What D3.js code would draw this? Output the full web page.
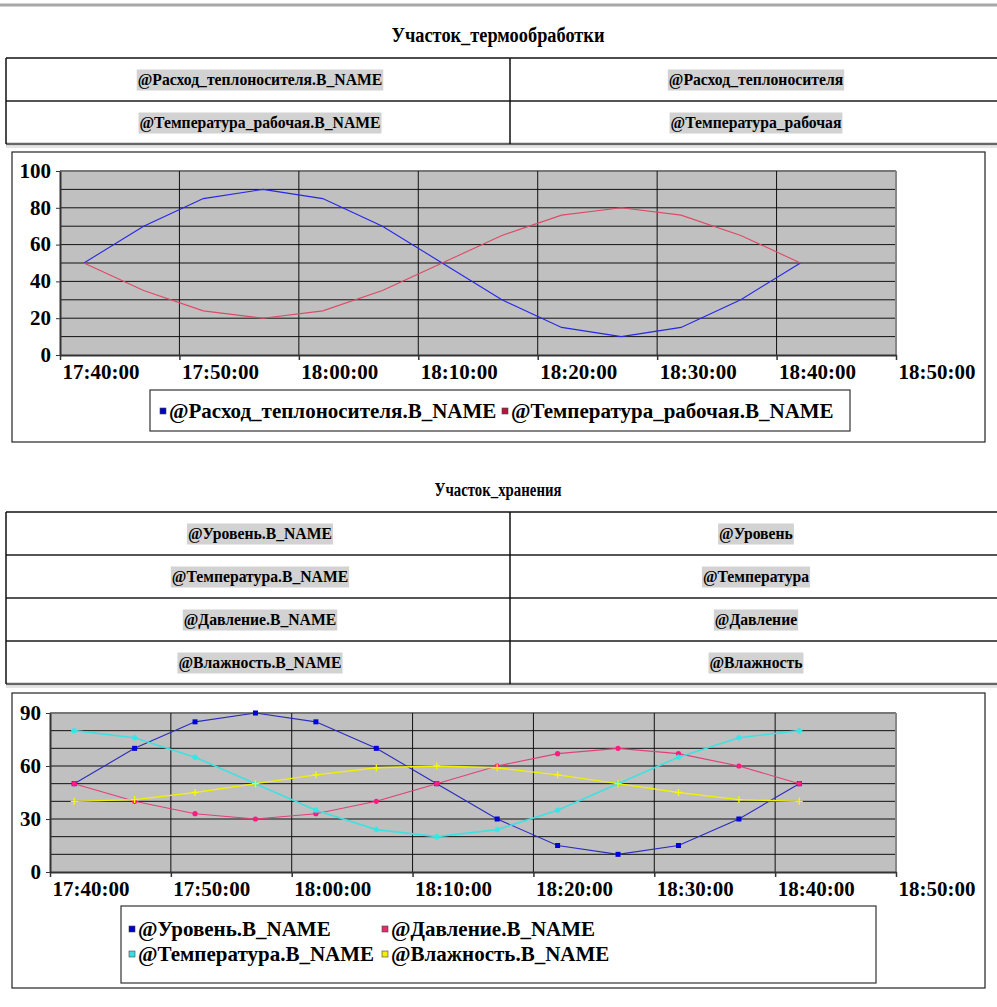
<!DOCTYPE html>
<html><head><meta charset="utf-8">
<script src="https://cdn.jsdelivr.net/npm/d3@7"></script>
<style>
body{margin:0;background:#fff;}
svg text{font-family:"Liberation Serif","Times New Roman","DejaVu Serif",serif;}
</style></head><body>
<svg id="c" width="997" height="1007"></svg>
<script>
// ---------- data ----------
const title1 = "Участок_термообработки";
const table1Left = ["@Расход_теплоносителя.B_NAME", "@Температура_рабочая.B_NAME"];
const table1Right = ["@Расход_теплоносителя", "@Температура_рабочая"];
const title2 = "Участок_хранения";
const table2Left = ["@Уровень.B_NAME", "@Температура.B_NAME", "@Давление.B_NAME", "@Влажность.B_NAME"];
const table2Right = ["@Уровень", "@Температура", "@Давление", "@Влажность"];

const times = ["17:42:00","17:47:00","17:52:00","17:57:00","18:02:00","18:07:00","18:12:00",
               "18:17:00","18:22:00","18:27:00","18:32:00","18:37:00","18:42:00"];
const xTickLabels = ["17:40:00","17:50:00","18:00:00","18:10:00","18:20:00","18:30:00","18:40:00","18:50:00"];

const chart1Names = ["@Расход_теплоносителя.B_NAME", "@Температура_рабочая.B_NAME"];
const flow     = [50,70,85,90,85,70,50,30,15,10,15,30,50];
const tempWork = [50,35,24,20,24,35,50,65,76,80,76,65,50];
const yTicks1 = [0,20,40,60,80,100];

const chart2Names = ["@Уровень.B_NAME", "@Давление.B_NAME", "@Температура.B_NAME", "@Влажность.B_NAME"];
const level       = [50,70,85,90,85,70,50,30,15,10,15,30,50];
const pressure    = [50,40,33,30,33,40,50,60,67,70,67,60,50];
const temperature = [80,76,65,50,35,24,20,24,35,50,65,76,80];
const humidity    = [40,41,45,50,55,59,60,59,55,50,45,41,40];
const yTicks2 = [0,30,60,90];

// ---------- helpers ----------
const svg = d3.select("#c");
const parse = d3.timeParse("%H:%M:%S");
const fmt = d3.timeFormat("%H:%M:%S");
const SERIF = '"Liberation Serif","Times New Roman","DejaVu Serif",serif';

svg.append("line").attr("x1",0).attr("x2",997).attr("y1",5).attr("y2",5)
   .attr("stroke","#a8a8a8").attr("stroke-width",3);

function drawTitle(text, y, size, width){
  svg.append("text").attr("x",498).attr("y",y).attr("text-anchor","middle")
    .attr("font-weight","bold").attr("font-size",size)
    .attr("textLength",width).attr("lengthAdjust","spacingAndGlyphs").text(text);
}

function drawTable(top, left, right){
  const rowH = 43, x0 = 6, xm = 510, x1 = 1000;
  const g = svg.append("g");
  const n = left.length;
  const bottom = top + n*rowH;
  g.append("line").attr("x1",x0).attr("x2",x1).attr("y1",top).attr("y2",top).attr("stroke","#111").attr("stroke-width",1.5);
  for(let i=1;i<n;i++){
    g.append("line").attr("x1",x0).attr("x2",x1).attr("y1",top+i*rowH).attr("y2",top+i*rowH).attr("stroke","#555").attr("stroke-width",2);
  }
  g.append("line").attr("x1",x0).attr("x2",x1).attr("y1",bottom).attr("y2",bottom).attr("stroke","#666").attr("stroke-width",2.5);
  g.append("line").attr("x1",x0).attr("x2",x1).attr("y1",bottom+3).attr("y2",bottom+3).attr("stroke","#e4e4e4").attr("stroke-width",2);
  g.append("line").attr("x1",x0).attr("x2",x0).attr("y1",top).attr("y2",bottom).attr("stroke","#111").attr("stroke-width",1.5);
  g.append("line").attr("x1",xm).attr("x2",xm).attr("y1",top).attr("y2",bottom).attr("stroke","#111").attr("stroke-width",1.5);
  const cells = [];
  left.forEach((t,i)=>cells.push({t, cx:260, cy: top + i*rowH + rowH/2}));
  right.forEach((t,i)=>cells.push({t, cx:756, cy: top + i*rowH + rowH/2}));
  cells.forEach(c=>{
    const cg = g.append("g");
    const rect = cg.append("rect").attr("fill","#d2d2d2");
    const tx = cg.append("text").attr("x",c.cx).attr("y",c.cy+5).attr("text-anchor","middle")
      .attr("font-size",15.7).attr("font-weight","bold").text(c.t);
    const w = tx.node().getComputedTextLength();
    rect.attr("x",c.cx - w/2 - 1).attr("y",c.cy-10).attr("width",w+2).attr("height",21);
  });
}

function drawChart(cfg){
  const g = svg.append("g");
  g.append("rect").attr("x",cfg.box[0]).attr("y",cfg.box[1]).attr("width",cfg.box[2]).attr("height",cfg.box[3])
   .attr("fill","#fff").attr("stroke","#222").attr("stroke-width",1.2);
  const x = d3.scaleTime().domain([parse(xTickLabels[0]), parse(xTickLabels[xTickLabels.length-1])]).range([cfg.x0,cfg.x1]);
  const y = d3.scaleLinear().domain([0,cfg.yMax]).range([cfg.yb,cfg.yt]);
  g.append("rect").attr("x",cfg.x0).attr("y",cfg.yt).attr("width",cfg.x1-cfg.x0).attr("height",cfg.yb-cfg.yt)
   .attr("fill","#c0c0c0");
  const hg = d3.range(10, cfg.yMax+1, 10);
  g.selectAll(null).data(hg).join("line")
    .attr("x1",cfg.x0).attr("x2",cfg.x1).attr("y1",d=>y(d)).attr("y2",d=>y(d))
    .attr("stroke",d=> d===cfg.yMax ? "#777" : "#111").attr("stroke-width",d=> d===cfg.yMax ? 2 : 1);
  const vt = xTickLabels.map(parse);
  g.selectAll(null).data(vt.slice(1)).join("line")
    .attr("x1",d=>x(d)).attr("x2",d=>x(d)).attr("y1",cfg.yt).attr("y2",cfg.yb)
    .attr("stroke",(d,i)=> i===vt.length-2 ? "#888" : "#111").attr("stroke-width",(d,i)=> i===vt.length-2 ? 2 : 1);
  const xa = g.append("g").attr("transform",`translate(0,${cfg.yb})`)
    .call(d3.axisBottom(x).tickValues(vt).tickFormat(fmt).tickSize(5).tickSizeOuter(0));
  xa.attr("font-family",SERIF);
  xa.select(".domain").attr("stroke","#333").attr("stroke-width",2);
  xa.selectAll(".tick line").attr("stroke","#333").attr("stroke-width",1.5);
  xa.selectAll(".tick text").attr("text-anchor","start").attr("dx",2).attr("dy",cfg.xLabDy)
    .attr("font-size",21).attr("font-weight","bold").attr("fill","#000");
  const ya = g.append("g").attr("transform",`translate(${cfg.x0},0)`)
    .call(d3.axisLeft(y).tickValues(cfg.yTicks).tickSize(4).tickSizeOuter(0));
  ya.attr("font-family",SERIF);
  ya.select(".domain").attr("stroke","#333").attr("stroke-width",2);
  ya.selectAll(".tick line").attr("stroke","#333");
  ya.selectAll(".tick text").attr("dx",-2).attr("dy","0.3em")
    .attr("font-size",21).attr("font-weight","bold").attr("fill","#000");
  const line = d3.line().x((d,i)=>x(parse(times[i]))).y(d=>y(d));
  cfg.series.forEach(s=>{
    g.append("path").attr("d",line(s.values)).attr("fill","none").attr("stroke",s.color).attr("stroke-width",s.width||1.1);
    if(s.marker){
      const mg = g.append("g");
      s.values.forEach((v,i)=>{
        const px = x(parse(times[i])), py = y(v);
        if(s.marker==="square"){
          mg.append("rect").attr("x",px-2.5).attr("y",py-2.5).attr("width",5).attr("height",5).attr("fill",s.mcolor);
        } else if(s.marker==="circle"){
          mg.append("circle").attr("cx",px).attr("cy",py).attr("r",2.6).attr("fill",s.mcolor);
        } else if(s.marker==="star"){
          mg.append("path").attr("d",`M${px-3},${py}H${px+3}M${px},${py-3}V${py+3}M${px-2},${py-2}L${px+2},${py+2}M${px-2},${py+2}L${px+2},${py-2}`)
            .attr("stroke",s.mcolor).attr("stroke-width",1.3);
        } else if(s.marker==="plus"){
          mg.append("path").attr("d",`M${px-3.5},${py}H${px+3.5}M${px},${py-3.5}V${py+3.5}`)
            .attr("stroke",s.mcolor).attr("stroke-width",1.3);
        }
      });
    }
  });
  const L = cfg.legend;
  g.append("rect").attr("x",L.box[0]).attr("y",L.box[1]).attr("width",L.box[2]).attr("height",L.box[3])
   .attr("fill","#fff").attr("stroke","#333").attr("stroke-width",1.2);
  L.items.forEach(it=>{
    g.append("rect").attr("x",it.x).attr("y",it.y-10).attr("width",6).attr("height",6)
      .attr("fill",it.color).attr("stroke","#444").attr("stroke-width",0.6);
    g.append("text").attr("x",it.x+9).attr("y",it.y).attr("font-size",21).attr("font-weight","bold").text(it.name);
  });
}

// ---------- section 1 ----------
drawTitle(title1, 42, 20, 213);
drawTable(58, table1Left, table1Right);
drawChart({
  box:[12,152,973,290], x0:60, x1:896, yt:171, yb:355, yMax:100, yTicks:yTicks1, xLabDy:"0.75em",
  series:[
    {values:flow, color:"#2626e8"},
    {values:tempWork, color:"#dd4a66"}
  ],
  legend:{ box:[150,390,700,41], items:[
    {x:160, y:418, color:"#0000cc", name:chart1Names[0]},
    {x:502, y:418, color:"#b8143c", name:chart1Names[1]}
  ]}
});

// ---------- section 2 ----------
drawTitle(title2, 496, 18, 127);
drawTable(512, table2Left, table2Right);
drawChart({
  box:[12,693,973,295], x0:50, x1:896, yt:713, yb:872, yMax:90, yTicks:yTicks2, xLabDy:"0.75em",
  series:[
    {values:level, color:"#2a2ac0", marker:"square", mcolor:"#0000dd"},
    {values:pressure, color:"#e0407a", marker:"circle", mcolor:"#ff1a80"},
    {values:temperature, color:"#40e0e0", marker:"star", mcolor:"#30e8e8", width:1.6},
    {values:humidity, color:"#f0f000", marker:"plus", mcolor:"#f8f800", width:1.3}
  ],
  legend:{ box:[121,906,755,77], items:[
    {x:129, y:936, color:"#0000cc", name:chart2Names[0]},
    {x:382, y:936, color:"#e0306a", name:chart2Names[1]},
    {x:129, y:961, color:"#33e0e0", name:chart2Names[2]},
    {x:382, y:961, color:"#f0f000", name:chart2Names[3]}
  ]}
});
</script>
</body></html>
